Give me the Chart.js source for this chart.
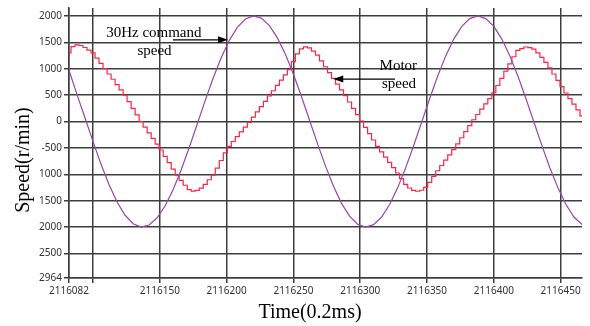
<!DOCTYPE html>
<html><head><meta charset="utf-8">
<script src="https://cdn.jsdelivr.net/npm/chart.js@4.4.1/dist/chart.umd.min.js"></script>
<style>html,body{margin:0;padding:0;background:#fff;}#wrap{width:590px;height:326px;}</style>
</head><body><div id="wrap"><canvas id="c" width="590" height="326"></canvas></div>
<script>
// ---- data ----
const motorTimes = [
2116082,2116085,2116088,2116091,2116094,2116097,2116100,2116103,2116106,2116109,
2116112,2116115,2116118,2116121,2116124,2116127,2116130,2116133,2116136,2116139,
2116142,2116145,2116148,2116151,2116154,2116157,2116160,2116163,2116166,2116169,
2116172,2116175,2116178,2116181,2116184,2116187,2116190,2116193,2116196,2116199,
2116202,2116205,2116208,2116211,2116214,2116217,2116220,2116223,2116226,2116229,
2116232,2116235,2116238,2116241,2116244,2116247,2116250,2116253,2116256,2116259,
2116262,2116265,2116268,2116271,2116274,2116277,2116280,2116283,2116286,2116289,
2116292,2116295,2116298,2116301,2116304,2116307,2116310,2116313,2116316,2116319,
2116322,2116325,2116328,2116331,2116334,2116337,2116340,2116343,2116346,2116349,
2116352,2116355,2116358,2116361,2116364,2116367,2116370,2116373,2116376,2116379,
2116382,2116385,2116388,2116391,2116394,2116397,2116400,2116403,2116406,2116409,
2116412,2116415,2116418,2116421,2116424,2116427,2116430,2116433,2116436,2116439,
2116442,2116445,2116448,2116451,2116454,2116457,2116460,2116463,2116466];
const motorSpeed = [
1300,1417,1451,1440,1402,1354,1300,1200,1100,1000,
900,800,700,600,500,375,250,125,0,-107,
-214,-321,-429,-540,-660,-780,-900,-1016,-1115,-1207,
-1290,-1320,-1305,-1260,-1191,-1103,-1015,-881,-738,-595,
-470,-379,-288,-197,-106,-15,83,183,283,383,
483,583,683,783,883,983,1133,1282,1375,1412,
1393,1334,1259,1148,1037,927,818,709,600,490,
370,250,130,10,-110,-230,-350,-470,-575,-675,
-775,-875,-975,-1082,-1191,-1259,-1305,-1321,-1302,-1247,
-1152,-1038,-933,-833,-733,-633,-533,-423,-308,-192,
-77,33,133,233,333,433,545,682,818,955,
1091,1227,1346,1379,1411,1401,1370,1301,1215,1120,
1017,900,780,660,540,432,331,219,107];
const commandTimes = [
2116082,2116088,2116094,2116100,2116106,2116112,2116118,2116124,2116130,2116136,
2116142,2116148,2116154,2116160,2116166,2116172,2116178,2116184,2116190,2116196,
2116202,2116208,2116214,2116220,2116226,2116232,2116238,2116244,2116250,2116256,
2116262,2116268,2116274,2116280,2116286,2116292,2116298,2116304,2116310,2116316,
2116322,2116328,2116334,2116340,2116346,2116352,2116358,2116364,2116370,2116376,
2116382,2116388,2116394,2116400,2116406,2116412,2116418,2116424,2116430,2116436,
2116442,2116448,2116454,2116460,2116466];
const commandSpeed = [
970,510,66,-382,-811,-1198,-1525,-1776,-1936,-1999,
-1961,-1824,-1596,-1286,-912,-492,-47,400,828,1213,
1537,1784,1941,2000,1958,1817,1584,1272,895,474,
28,-419,-845,-1228,-1550,-1793,-1945,-2000,-1954,-1809,
-1572,-1257,-878,-455,-9,437,862,1243,1561,1801,
1950,2000,1950,1801,1561,1243,862,437,-9,-456,
-879,-1257,-1573,-1809,-1954];
const xTicks = [2116082,2116100,2116150,2116200,2116250,2116300,2116350,2116400,2116450];
const xTickLabels = ['2116082','','2116150','2116200','2116250','2116300','2116350','2116400','2116450'];
const yTicks = [2000,1500,1000,500,0,-500,-1000,-1500,-2000,-2500,-2964];
const yTickLabels = ['2000','1500','1000','500','0','-500','1000','1500','2000','2500','2964'];
const xTitle = 'Time(0.2ms)';
const yTitle = 'Speed(r/min)';
const noteTexts = ['30Hz command','speed','Motor','speed'];
const noteAt = [[2116145.5,1670],[2116146,1328],[2116328.5,1047],[2116329,711]];
const arrowAt = [[2116159.8,1547,2116201,1547],[2116326,804,2116279.8,804]];

// ---- chart ----
const gridColor = '#3e3e3e';
const tickFont = {family:'"Noto Sans", sans-serif', size:10};
const serif = '"Liberation Serif", "Times New Roman", serif';

const overlay = {
  id:'overlay',
  afterDraw(chart){
    const ctx = chart.ctx, xs = chart.scales.x, ys = chart.scales.y;
    ctx.save();
    ctx.fillStyle = '#000';
    ctx.font = '15px ' + serif;
    ctx.textAlign = 'center';
    ctx.textBaseline = 'middle';
    noteTexts.forEach((t,i)=>{
      ctx.fillText(t, xs.getPixelForValue(noteAt[i][0]), ys.getPixelForValue(noteAt[i][1]));
    });
    ctx.strokeStyle = '#000';
    ctx.lineWidth = 1.2;
    arrowAt.forEach(a=>{
      const x1 = xs.getPixelForValue(a[0]), y1 = ys.getPixelForValue(a[1]);
      const x2 = xs.getPixelForValue(a[2]), y2 = ys.getPixelForValue(a[3]);
      const dir = Math.sign(x2-x1);
      ctx.beginPath(); ctx.moveTo(x1,y1); ctx.lineTo(x2-dir*8,y2); ctx.stroke();
      ctx.beginPath(); ctx.moveTo(x2,y2); ctx.lineTo(x2-dir*10,y2-3.5); ctx.lineTo(x2-dir*10,y2+3.5); ctx.closePath(); ctx.fill();
    });
    // axis titles
    ctx.font = '20px ' + serif;
    ctx.fillText(xTitle, 310, 313);
    ctx.translate(24,160);
    ctx.rotate(-Math.PI/2);
    ctx.fillText(yTitle, 0, 0);
    ctx.restore();
  }
};

new Chart(document.getElementById('c'), {
  type:'line',
  data:{
    datasets:[
      {label:'30Hz command speed', data:commandTimes.map((t,i)=>({x:t,y:commandSpeed[i]})),
       borderColor:'rgb(150,72,165)', borderWidth:1.2, pointRadius:0, tension:0, fill:false},
      {label:'Motor speed', data:motorTimes.map((t,i)=>({x:t,y:motorSpeed[i]})),
       borderColor:'rgb(255,35,70)', borderWidth:1.2, pointRadius:0, stepped:'middle', fill:false}
    ]
  },
  options:{
    responsive:false, animation:false, devicePixelRatio:1,
    layout:{padding:{top:6,right:8,left:0,bottom:0}},
    plugins:{legend:{display:false}, tooltip:{enabled:false}},
    scales:{
      x:{type:'linear', min:2116082, max:2116466,
        afterBuildTicks:s=>{s.ticks = xTicks.map(v=>({value:v}));},
        afterFit:s=>{s.height = 48;},
        ticks:{autoSkip:false, maxRotation:0, color:'#333', font:tickFont, padding:2,
          callback:(v,i)=>xTickLabels[i]},
        grid:{color:gridColor, lineWidth:1.5, tickLength:5, tickColor:gridColor},
        border:{display:true, color:gridColor, width:1.5}
      },
      y:{type:'linear', min:-2964, max:2150,
        afterBuildTicks:s=>{s.ticks = yTicks.map(v=>({value:v}));},
        afterFit:s=>{s.width = 69;},
        ticks:{autoSkip:false, color:'#333', font:tickFont, padding:2,
          callback:(v,i)=>yTickLabels[i]},
        grid:{color:gridColor, lineWidth:1.5, tickLength:5, tickColor:gridColor},
        border:{display:true, color:gridColor, width:1.5}
      }
    }
  },
  plugins:[overlay]
});
</script>
</body></html>
